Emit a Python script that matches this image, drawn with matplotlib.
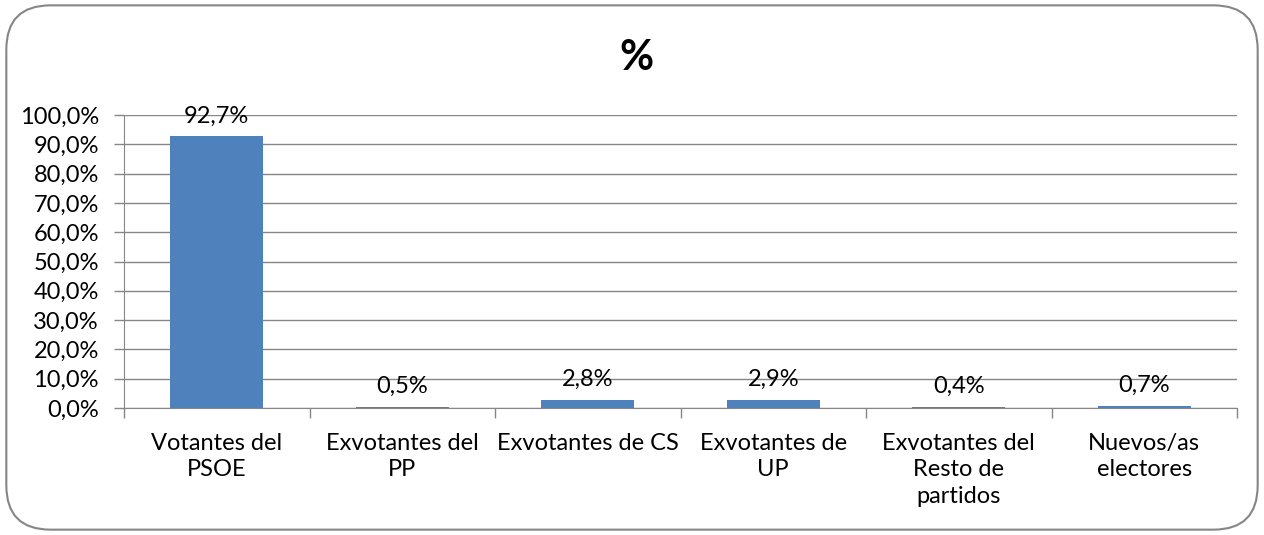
import matplotlib.pyplot as plt
from matplotlib.patches import FancyBboxPatch
from matplotlib.ticker import FuncFormatter

categories = ["Votantes del\nPSOE", "Exvotantes del\nPP", "Exvotantes de CS",
              "Exvotantes de\nUP", "Exvotantes del\nResto de\npartidos", "Nuevos/as\nelectores"]
values = [92.7, 0.5, 2.8, 2.9, 0.4, 0.7]
labels = ["92,7%", "0,5%", "2,8%", "2,9%", "0,4%", "0,7%"]

plt.rcParams['font.family'] = ['Lato', 'DejaVu Sans']

fig = plt.figure(figsize=(12.64, 5.35), dpi=100)

# rounded outer frame
frame = FancyBboxPatch((0.005, 0.01), 0.99, 0.98, boxstyle="round,pad=0,rounding_size=0.035",
                       transform=fig.transFigure, facecolor="none", edgecolor="#868686",
                       linewidth=1.5, mutation_aspect=1264 / 535, zorder=10)
fig.patches.append(frame)

ax = fig.add_axes([124 / 1264, 1 - 408 / 535, (1237 - 124) / 1264, (408 - 115) / 535])
ax.set_facecolor("none")

x = list(range(len(categories)))
ax.bar(x, values, width=0.5, color="#4F81BD", zorder=3)
for xi, v, lab in zip(x, values, labels):
    ax.annotate(lab, (xi, v), xytext=(0, 7), textcoords="offset points",
                ha="center", va="bottom", fontsize=17, zorder=4)

ax.set_xlim(-0.5, len(categories) - 0.5)
ax.set_ylim(0, 100)
ax.set_yticks(range(0, 101, 10))
ax.yaxis.set_major_formatter(FuncFormatter(lambda v, p: f"{v:.1f}%".replace(".", ",")))
ax.grid(axis="y", color="#868686", linewidth=1, zorder=0)

ax.set_xticks([i + 0.5 for i in range(-1, len(categories))], minor=False)
ax.set_xticklabels([])
ax.set_xticks(x, minor=True)
ax.set_xticklabels(categories, minor=True, fontsize=17, linespacing=1.32)
ax.tick_params(axis="x", which="major", length=7, color="#868686", width=1)
ax.tick_params(axis="x", which="minor", length=0, pad=18)
ax.tick_params(axis="y", length=7, color="#868686", width=1, labelsize=17, pad=11)
for lab in ax.get_xticklabels(minor=True):
    lab.set_verticalalignment("top")

for side in ["top", "right"]:
    ax.spines[side].set_visible(False)
ax.spines["left"].set_color("#868686")
ax.spines["bottom"].set_color("#868686")

fig.text(636 / 1264, 1 - 58 / 535, "%", ha="center", va="center",
         fontsize=30, fontweight="bold")

fig.savefig("out.png", dpi=100)
